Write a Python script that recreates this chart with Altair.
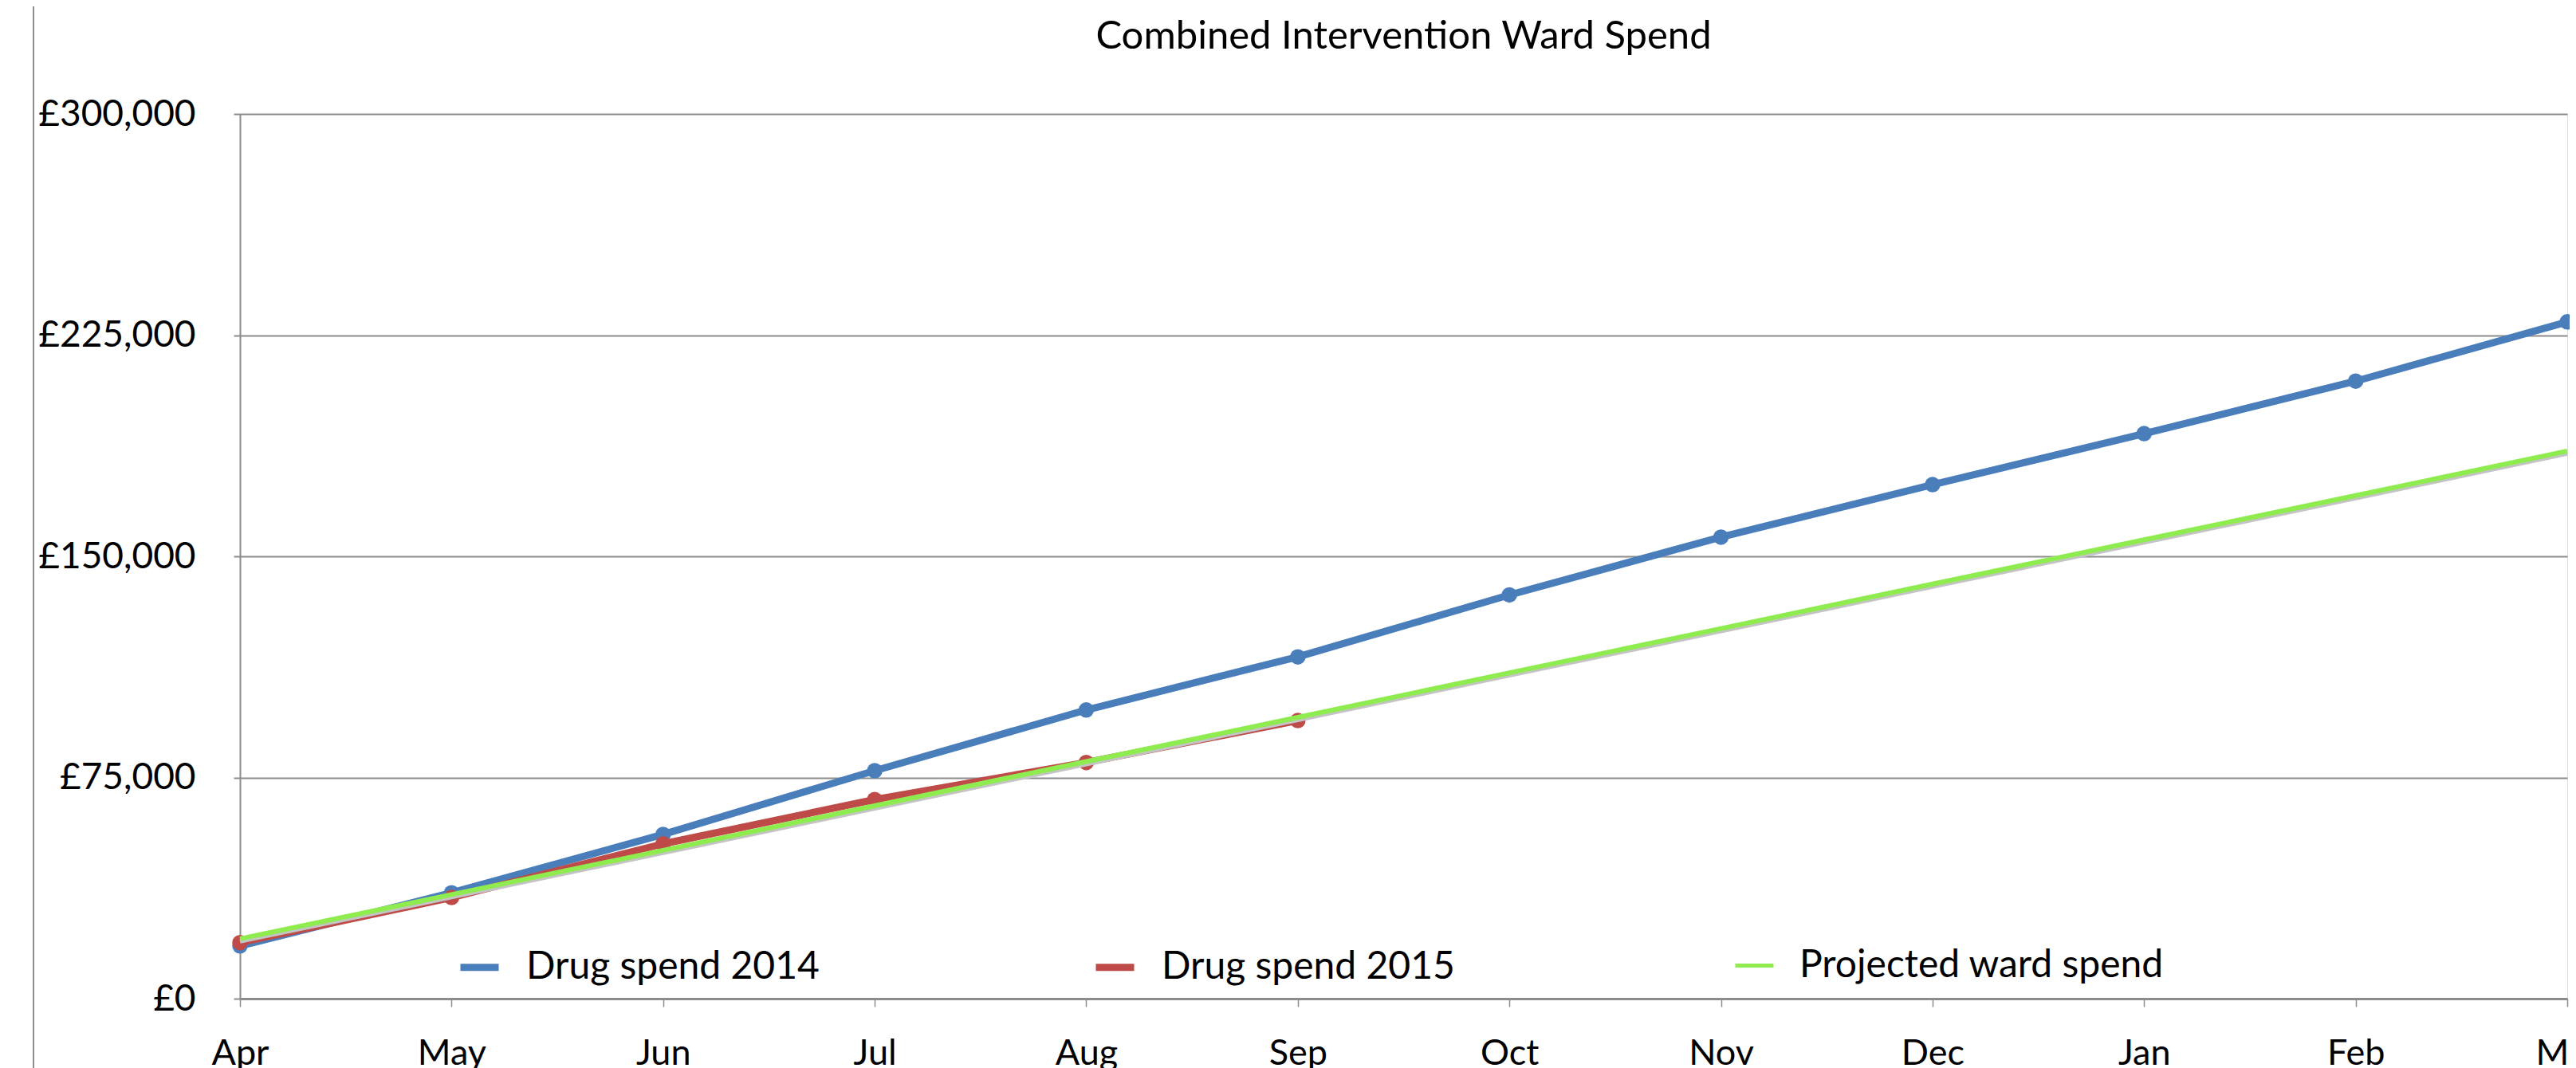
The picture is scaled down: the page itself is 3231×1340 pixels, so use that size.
import altair as alt
import pandas as pd

months = ["Apr", "May", "Jun", "Jul", "Aug", "Sep", "Oct", "Nov", "Dec", "Jan", "Feb", "Mar"]
spend_2014 = [17900, 35900, 55700, 77300, 97900, 115900, 136900, 156500, 174300, 191600, 209400, 229500]
spend_2015 = [19000, 34300, 52500, 67500, 80100, 94300]
projected = [20300, 35300, 50300, 65400, 80400, 95400, 110500, 125500, 140600, 155600, 170600, 185700]

series_names = ["Drug spend 2014", "Drug spend 2015", "Projected ward spend"]
series_colors = ["#4A7EBB", "#BE4B48", "#8EEC4F"]
y_ticks = [0, 75000, 150000, 225000, 300000]

rows = []
for m, v in zip(months, spend_2014):
    rows.append({"month": m, "value": v, "series": series_names[0]})
for m, v in zip(months, spend_2015):
    rows.append({"month": m, "value": v, "series": series_names[1]})
for m, v in zip(months, projected):
    rows.append({"month": m, "value": v, "series": series_names[2]})
df = pd.DataFrame(rows)

FONT = "Lato"
GREY = "#8c8c8c"

x = alt.X(
    "month:N",
    sort=months,
    title=None,
    scale=alt.Scale(type="point", padding=0),
    axis=alt.Axis(
        labelAngle=0, labelFont=FONT, labelFontSize=45, labelColor="black",
        labelPadding=36, tickSize=10, tickColor=GREY, tickWidth=1.5,
        domainColor=GREY, domainWidth=3, grid=False, labelLimit=1000,
    ),
)
y = alt.Y(
    "value:Q",
    title=None,
    scale=alt.Scale(domain=[0, 300000], nice=False),
    axis=alt.Axis(
        values=y_ticks, labelExpr="'£' + format(datum.value, ',')",
        labelFont=FONT, labelFontSize=46, labelColor="black", labelPadding=48,
        labelLimit=1000,
        tickSize=8, tickColor=GREY, tickWidth=2, domainColor=GREY, domainWidth=2,
        grid=True, gridColor=GREY, gridWidth=2,
    ),
)
color_scale = alt.Scale(domain=series_names, range=series_colors)

leg_spend = alt.Legend(
    title=None, orient="none", legendX=272, legendY=1042, direction="horizontal",
    values=series_names[:2],
    symbolSize=2304, symbolType="stroke", symbolStrokeWidth=9, symbolOpacity=1,
    labelFont=FONT, labelFontSize=48, labelColor="black", labelOffset=30,
    labelLimit=1000, columnPadding=328, padding=0,
)
leg_proj = alt.Legend(
    title=None, orient="none", legendX=1873, legendY=1042, direction="horizontal",
    symbolSize=2304, symbolType="stroke", symbolStrokeWidth=5,
    symbolStrokeColor=series_colors[2], symbolFillColor=series_colors[2], symbolOpacity=1,
    labelFont=FONT, labelFontSize=48, labelColor="black", labelOffset=30,
    labelLimit=1000, padding=0,
)

base = alt.Chart(df)
spend = base.transform_filter(alt.FieldOneOfPredicate(field="series", oneOf=series_names[:2]))
proj = base.transform_filter(alt.FieldEqualPredicate(field="series", equal=series_names[2]))

lines = spend.mark_line(strokeWidth=9, strokeCap="round", strokeJoin="round").encode(
    x=x, y=y, stroke=alt.Stroke("series:N", scale=color_scale, legend=leg_spend)
)
points = spend.mark_point(filled=True, size=380, opacity=1).encode(
    x=x, y=y, color=alt.Color("series:N", scale=color_scale, legend=None),
)
shadow = proj.mark_line(strokeWidth=6, color="#c4c4c4").encode(x=x, y=y, yOffset=alt.value(3))
green = proj.mark_line(strokeWidth=6, color=series_colors[2]).encode(
    x=x, y=y,
    opacity=alt.Opacity("series:N", scale=alt.Scale(domain=series_names[2:], range=[1]), legend=leg_proj),
)
divider = alt.Chart(pd.DataFrame({"k": [0]})).mark_rule(color=GREY, strokeWidth=2).encode(
    x=alt.value(-259), y=alt.value(-135), y2=alt.value(1250)
)

chart = alt.layer(divider, lines, points, shadow, green).properties(
    width=2919,
    height=1110,
    autosize=alt.AutoSizeParams(type="none"),
    padding={"left": 293, "top": 135, "right": 3, "bottom": 110},
    title=alt.TitleParams(
        "Combined Intervention Ward Spend", font=FONT, fontSize=49, fontWeight="normal",
        color="black", anchor="middle", frame="group", offset=0, baseline="alphabetic", dy=103,
    ),
).configure_view(stroke=None).configure(background="white")

chart.save("out.html", embed_options={"renderer": "svg", "actions": False})
